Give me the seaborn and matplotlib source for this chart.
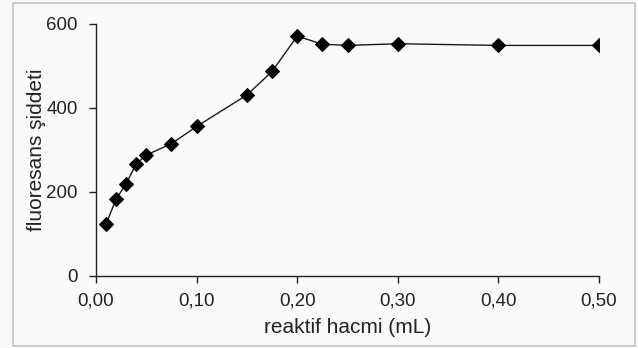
import matplotlib
matplotlib.use("Agg")
import matplotlib.pyplot as plt
import matplotlib.patches as patches
from matplotlib.ticker import FuncFormatter
import seaborn as sns

# --- Data dari grafik ---
hacim = [0.01, 0.02, 0.03, 0.04, 0.05, 0.075, 0.10, 0.15, 0.175, 0.20, 0.225, 0.25, 0.30, 0.40, 0.50]
siddet = [124, 183, 220, 267, 288, 315, 356, 431, 487, 571, 552, 549, 553, 549, 549]
x_ticks = [0.0, 0.1, 0.2, 0.3, 0.4, 0.5]
y_ticks = [0, 200, 400, 600]

sns.set_style("white")
plt.rcParams['font.family'] = ['Liberation Sans', 'DejaVu Sans']

bg = '#fafafa'
fig = plt.figure(figsize=(6.38, 3.48), dpi=100, facecolor=bg)
ax = fig.add_axes([96/638, 1 - 276/348, (599 - 96)/638, (276 - 24)/348])
ax.set_facecolor(bg)

# garis tepi luar
fig.patches.append(patches.Rectangle((13/638, 2/348), 622/638, 343/348, transform=fig.transFigure,
                                     fill=False, edgecolor='#c4c4c4', lw=1.2))

sns.lineplot(x=hacim, y=siddet, ax=ax, color='#1a1a1a', lw=1.0, marker='D',
             markersize=7, markeredgecolor='black', markerfacecolor='black')

ax.set_xlim(0, 0.5)
ax.set_ylim(0, 600)
ax.set_xticks(x_ticks)
ax.set_yticks(y_ticks)
ax.xaxis.set_major_formatter(FuncFormatter(lambda v, p: f'{v:.2f}'.replace('.', ',')))

for s in ['top', 'right']:
    ax.spines[s].set_visible(False)
for s in ['left', 'bottom']:
    ax.spines[s].set_color('#222222')
    ax.spines[s].set_linewidth(1.0)

ax.tick_params(axis='both', direction='out', length=5, width=1, color='#222222',
               labelsize=13.5, labelcolor='#222222', bottom=True, left=True)
ax.tick_params(axis='x', pad=7)
ax.tick_params(axis='y', pad=8)

ax.set_xlabel('reaktif hacmi (mL)', fontsize=15, color='#222222', labelpad=6)
ax.set_ylabel('fluoresans şiddeti', fontsize=15, color='#222222', labelpad=0)

fig.savefig('out.png', dpi=100, facecolor=bg)
